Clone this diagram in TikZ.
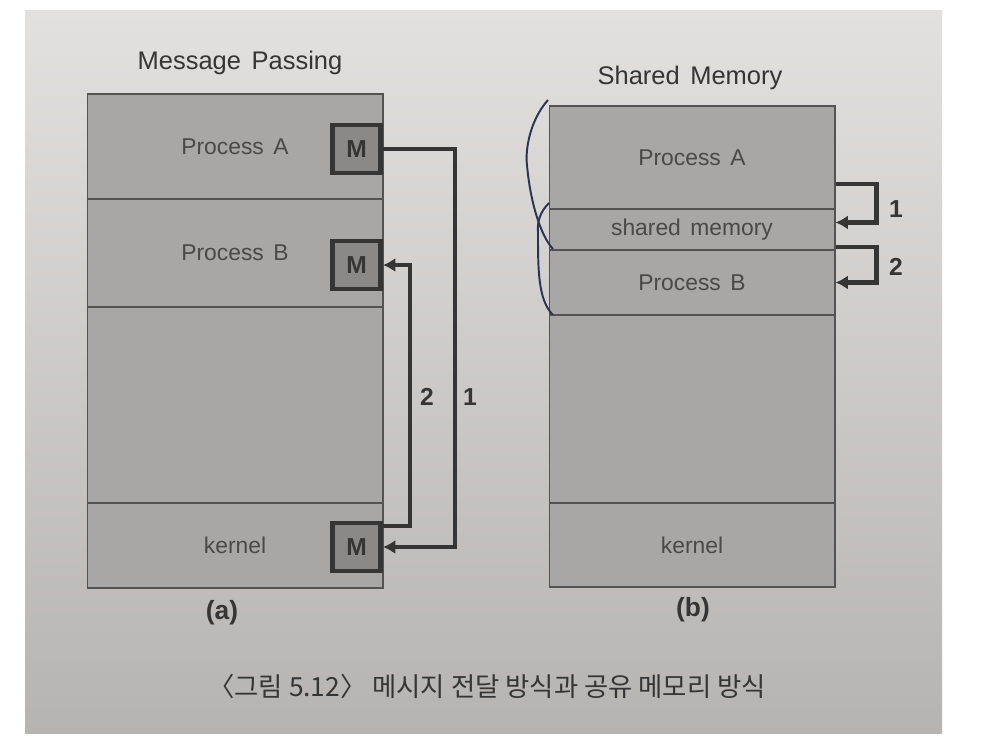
\documentclass[tikz,border=0pt]{standalone}
\usepackage{fontspec}
\setmainfont[WordSpace=1.5]{Liberation Sans}
\newfontfamily\kofont{Noto Sans CJK KR}
\usetikzlibrary{arrows.meta}

\definecolor{pagetop}{HTML}{E3E1DF}
\definecolor{pagebot}{HTML}{B6B3B0}
\definecolor{memfill}{HTML}{A9A7A5}
\definecolor{msgfill}{HTML}{8B8987}
\definecolor{ink}{HTML}{353535}
\definecolor{pen}{HTML}{2B3352}

\begin{document}
\begin{tikzpicture}[x=0.02cm, y=-0.02cm,
    sect/.style={draw=ink!85, line width=0.6pt, fill=memfill, inner sep=0pt,
        minimum width=5.92cm, text=ink!90, font=\fontsize{13}{15}\selectfont},
    mbox/.style={draw=ink, line width=2.6pt, fill=msgfill, minimum size=0.96cm,
        inner sep=0pt, text=ink, font=\bfseries\fontsize{14}{16}\selectfont},
    flow/.style={draw=ink, line width=2.4pt, -{Latex[length=7pt,width=8pt]}},
    num/.style={text=ink, font=\bfseries\fontsize{14}{16}\selectfont},
    title/.style={text=ink, font=\fontsize{14.5}{16}\selectfont}]
    % page of the book
    \useasboundingbox (0,0) rectangle (995,744);
    \fill[white] (0,0) rectangle (995,744);
    \shade[top color=pagetop, bottom color=pagebot] (25,10) rectangle (942,733);

    % (a) message passing
    \node[title] (titA) at (240,63) {Message Passing};
    \foreach \nm/\cy/\hh/\txt in {pA/146.5/2.1/Process A, pB/253/2.16/Process B,
        freeA/405/3.92/, kerA/545.5/1.7/kernel}
        \node[sect, minimum height=\hh cm] (\nm) at (235,\cy) {\txt};
    \node[mbox, anchor=east] (mA) at (383,149) {M};
    \node[mbox, anchor=east] (mB) at (383,265) {M};
    \node[mbox, anchor=east] (mK) at (383,547) {M};
    % message copies through the kernel
    \draw[flow] (mA.east) -- ++(72,0) |- (mK.east);
    \draw[flow] ([yshift=12pt]mK.east) -- ++(27,0) |- (mB.east);
    \node[num] (n2a) at (427,397) {2};
    \node[num] (n1a) at (470,397) {1};
    \node[num, font=\bfseries\fontsize{15}{17}\selectfont] (capA) at (222,613) {(a)};

    % (b) shared memory
    \node[title] (titB) at (690,78) {Shared Memory};
    \foreach \nm/\cy/\hh/\txt in {pA2/157.5/2.06/Process A, shm/229.5/0.82/shared memory,
        pB2/282.5/1.3/Process B, freeB/409/3.76/, kerB/545/1.68/kernel}
        \node[sect, minimum width=5.72cm, minimum height=\hh cm] (\nm) at (692,\cy) {\txt};
    \draw[flow] ([yshift=-15pt]pA2.east) -- ++(41,0) |- ([yshift=4pt]shm.east);
    \draw[flow] ([yshift=-10pt]shm.east) -- ++(41,0) |- (pB2.east);
    \node[num] (n1b) at (896,209) {1};
    \node[num] (n2b) at (896,267) {2};
    \node[num, font=\bfseries\fontsize{15}{17}\selectfont] (capB) at (693,610) {(b)};

    % pen marks on the page
    \draw[pen, line width=1.1pt] (548,100) .. controls (530,120) and (525,150) .. (527,165)
        .. controls (530,200) and (540,235) .. (553,249);
    \draw[pen, line width=1.1pt] (549,203) .. controls (540,212) and (537,222) .. (538,232)
        .. controls (538,270) and (538,300) .. (553,315);

    % caption
    \node[text=ink, font=\kofont\fontsize{15}{17}\selectfont] (cap) at (487,686)
        {〈그림 5.12〉 메시지 전달 방식과 공유 메모리 방식};
\end{tikzpicture}
\end{document}
